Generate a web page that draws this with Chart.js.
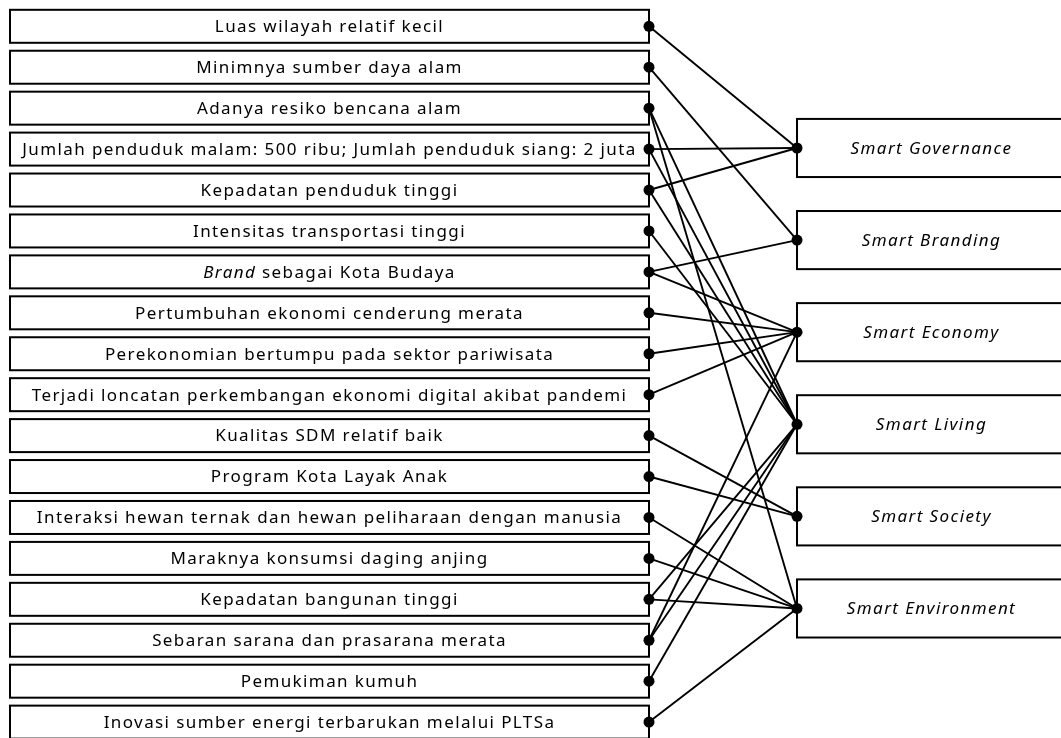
<!DOCTYPE html>
<html>
<head>
<meta charset="utf-8">
<script src="https://cdn.jsdelivr.net/npm/chart.js@4.4.1/dist/chart.umd.min.js"></script>
<style>
  html, body { margin: 0; padding: 0; background: #fff; }
  #wrap { width: 1061px; height: 738px; }
</style>
</head>
<body>
<div id="wrap"><canvas id="diagram" width="1061" height="738"></canvas></div>
<script>
// Factors (left column, top to bottom)
const factors = [
    'Luas wilayah relatif kecil',
    'Minimnya sumber daya alam',
    'Adanya resiko bencana alam',
    'Jumlah penduduk malam: 500 ribu; Jumlah penduduk siang: 2 juta',
    'Kepadatan penduduk tinggi',
    'Intensitas transportasi tinggi',
    '*Brand* sebagai Kota Budaya',
    'Pertumbuhan ekonomi cenderung merata',
    'Perekonomian bertumpu pada sektor pariwisata',
    'Terjadi loncatan perkembangan ekonomi digital akibat pandemi',
    'Kualitas SDM relatif baik',
    'Program Kota Layak Anak',
    'Interaksi hewan ternak dan hewan peliharaan dengan manusia',
    'Maraknya konsumsi daging anjing',
    'Kepadatan bangunan tinggi',
    'Sebaran sarana dan prasarana merata',
    'Pemukiman kumuh',
    'Inovasi sumber energi terbarukan melalui PLTSa'
];

// Smart city dimensions (right column)
const dimensions = ['Smart Governance', 'Smart Branding', 'Smart Economy', 'Smart Living', 'Smart Society', 'Smart Environment'];

// Which factors feed each dimension (factor indexes)
const governance = [0, 3, 4];
const branding = [1, 6];
const economy = [6, 7, 8, 9, 15];
const living = [2, 3, 4, 5, 14, 15, 16];
const society = [10, 11];
const environment = [2, 12, 13, 14, 17];
const dimensionLinks = [governance, branding, economy, living, society, environment];

// Layout (row units on the y scale, pixels on the x scale)
const LEFT_X0 = 10, LEFT_X1 = 649;
const RIGHT_X0 = 797, RIGHT_X1 = 1066;
const ROW_HALF = 0.403;
const DIM_FIRST = 2.973, DIM_STEP = 2.25, DIM_HALF = 0.71;
const dimRow = j => DIM_FIRST + j * DIM_STEP;

const FONT = '"Noto Sans", "DejaVu Sans", sans-serif';

// Build one line dataset per link
const linkSets = [];
dimensionLinks.forEach((list, j) => {
    list.forEach(i => {
        linkSets.push({
            type: 'line',
            data: [{ x: LEFT_X1, y: i }, { x: RIGHT_X0, y: dimRow(j) }],
            borderColor: '#000',
            borderWidth: 1.9,
            pointRadius: 0,
            fill: false,
            clip: false
        });
    });
});

const dots = factors.map((f, i) => ({ x: LEFT_X1, y: i }))
    .concat(dimensions.map((d, j) => ({ x: RIGHT_X0, y: dimRow(j) })));

// Draw the boxes and labels behind the lines
const boxPlugin = {
    id: 'boxes',
    beforeDatasetsDraw(chart) {
        const ctx = chart.ctx;
        const xs = chart.scales.x, ys = chart.scales.y;
        ctx.save();
        ctx.lineWidth = 2;
        ctx.strokeStyle = '#000';
        ctx.fillStyle = '#000';
        ctx.textBaseline = 'middle';

        factors.forEach((label, i) => {
            const x0 = xs.getPixelForValue(LEFT_X0), x1 = xs.getPixelForValue(LEFT_X1);
            const y0 = ys.getPixelForValue(i - ROW_HALF), y1 = ys.getPixelForValue(i + ROW_HALF);
            ctx.fillStyle = '#fff';
            ctx.fillRect(x0, y0, x1 - x0, y1 - y0);
            ctx.strokeRect(x0, y0, x1 - x0, y1 - y0);
            ctx.fillStyle = '#000';

            // split "*italic*" parts
            const parts = label.split('*').map((t, k) => ({ text: t, italic: k % 2 === 1 })).filter(p => p.text);
            ctx.letterSpacing = '1.4px';
            let total = 0;
            parts.forEach(p => {
                ctx.font = (p.italic ? 'italic ' : '') + '17px ' + FONT;
                p.w = ctx.measureText(p.text).width;
                total += p.w;
            });
            let tx = (x0 + x1) / 2 - total / 2;
            const ty = ys.getPixelForValue(i) + 1;
            ctx.textAlign = 'left';
            parts.forEach(p => {
                ctx.font = (p.italic ? 'italic ' : '') + '17px ' + FONT;
                ctx.fillText(p.text, tx, ty);
                tx += p.w;
            });
        });

        dimensions.forEach((label, j) => {
            const x0 = xs.getPixelForValue(RIGHT_X0), x1 = xs.getPixelForValue(RIGHT_X1);
            const y0 = ys.getPixelForValue(dimRow(j) - DIM_HALF), y1 = ys.getPixelForValue(dimRow(j) + DIM_HALF);
            ctx.fillStyle = '#fff';
            ctx.fillRect(x0, y0, x1 - x0, y1 - y0);
            ctx.strokeRect(x0, y0, x1 - x0, y1 - y0);
            ctx.fillStyle = '#000';
            ctx.letterSpacing = '1.4px';
            ctx.font = 'italic 17px ' + FONT;
            ctx.textAlign = 'center';
            ctx.fillText(label, (x0 + x1) / 2, ys.getPixelForValue(dimRow(j)) + 1);
        });
        ctx.restore();
    }
};

new Chart(document.getElementById('diagram'), {
    type: 'scatter',
    data: {
        datasets: linkSets.concat([{
            type: 'scatter',
            data: dots,
            pointRadius: 5.5,
            pointBackgroundColor: '#000',
            pointBorderWidth: 0,
            clip: false
        }])
    },
    options: {
        responsive: false,
        animation: false,
        events: [],
        layout: { padding: 0, autoPadding: false },
        plugins: { legend: { display: false }, tooltip: { enabled: false } },
        scales: {
            x: { type: 'linear', min: 0, max: 1061, display: false },
            y: { type: 'linear', min: -0.6426, max: 17.388, reverse: true, display: false }
        }
    },
    plugins: [boxPlugin]
});
</script>
</body>
</html>
